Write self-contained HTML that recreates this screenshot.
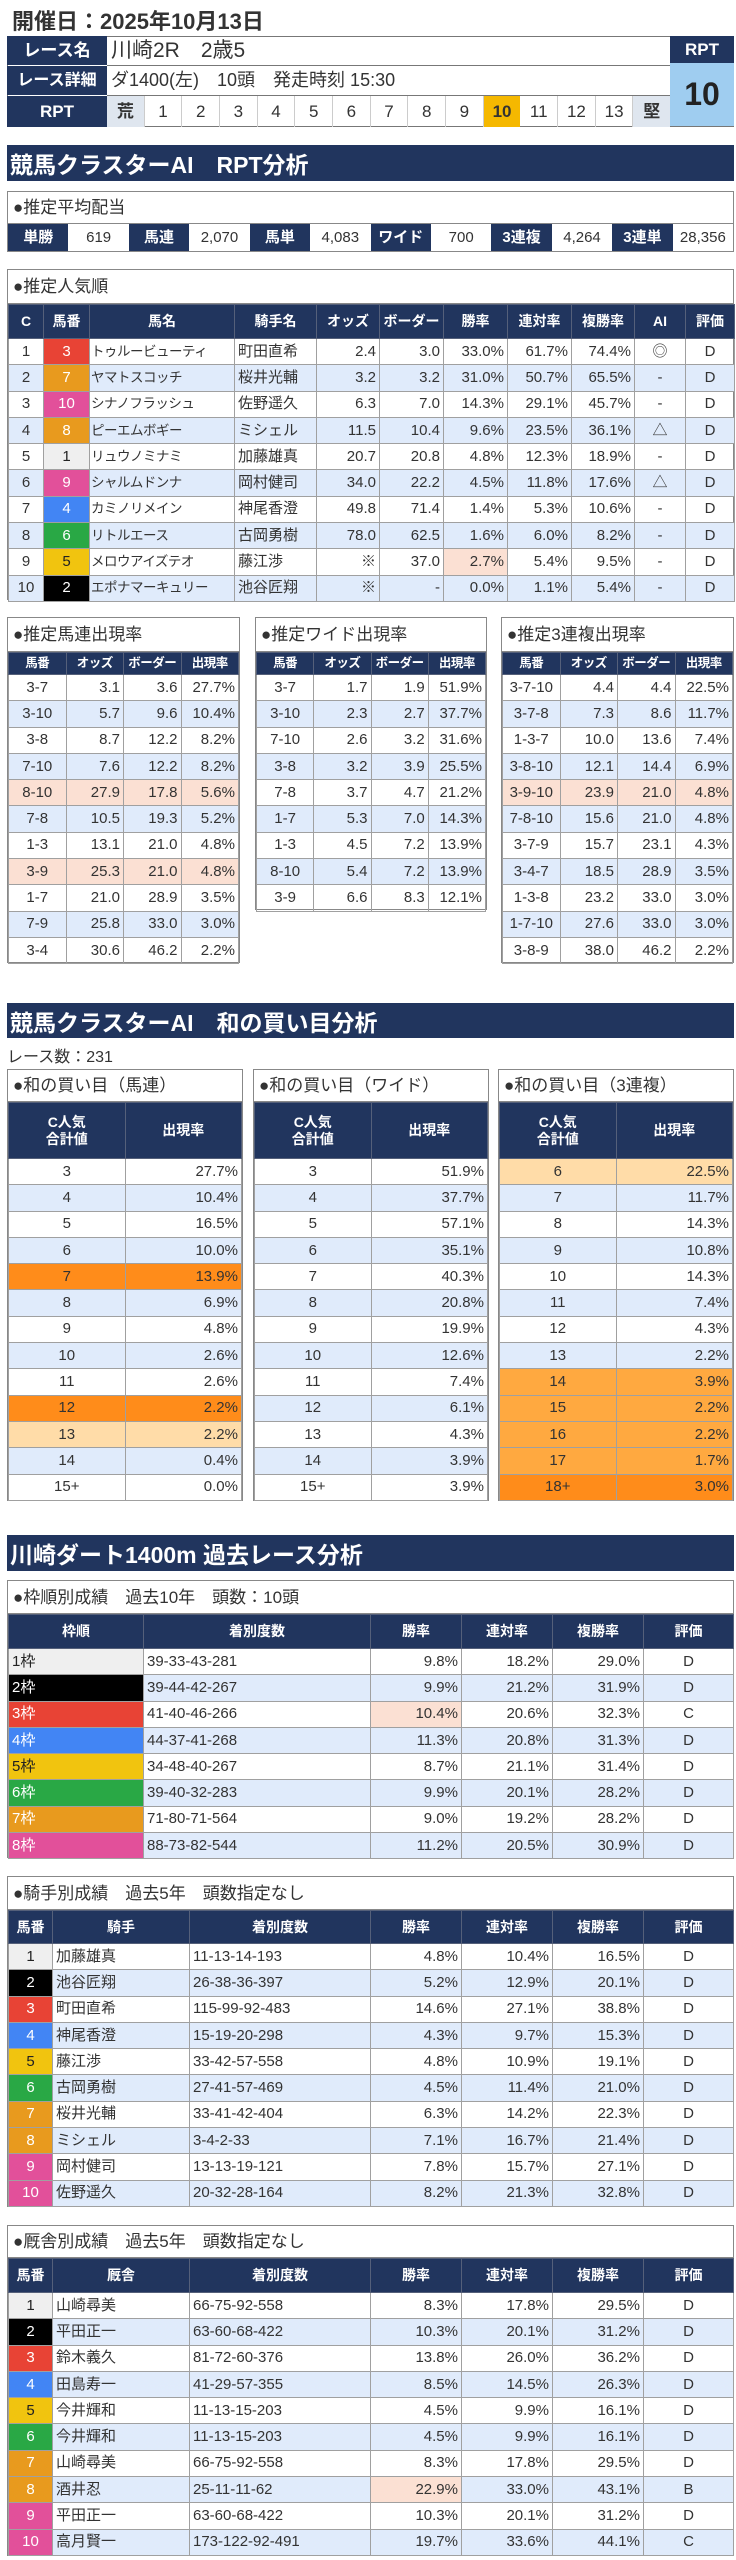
<!DOCTYPE html>
<html><head><meta charset="utf-8">
<style>
*{box-sizing:border-box}
body{margin:0;width:736px;height:2560px;position:relative;background:#fff;font-family:"Liberation Sans","Noto Sans CJK JP",sans-serif;color:#333;overflow:hidden}
.abs{position:absolute}
.sec{position:absolute;left:7px;width:727px;background:#21355e;color:#fff;font-weight:bold;font-size:23px;padding-left:3px;display:flex;align-items:center}
.box{position:absolute;border:1px solid #888;background:#fff}
.bt{height:32px;line-height:32px;padding-left:5px;font-size:17px;border-bottom:1px solid #888}
table.t{width:100%;border-collapse:collapse;table-layout:fixed;font-size:15px}
.t th{background:#21355e;color:#fff;font-weight:bold;border:1px solid #55607a;font-size:14px;padding:0;text-align:center;white-space:nowrap;overflow:hidden;line-height:1.2}
.t td{border:1px solid #a0a0a0;height:26.3px;line-height:20px;padding:0 3px;white-space:nowrap;overflow:hidden;vertical-align:middle}
.t tr.a td{background:#e0ebfb}
.r{text-align:right}.c{text-align:center}.l{text-align:left}
.nm{font-size:13.5px;letter-spacing:-0.5px;padding:0 1px!important}
.t td.pk,.t tr td.pk{background:#fbe0d3}
.sm th{font-size:12.5px;letter-spacing:-0.5px}
.w1{background:#efefef!important;color:#222}
.w2{background:#000!important;color:#fff}
.w3{background:#e84335!important;color:#fff}
.w4{background:#4285f4!important;color:#fff}
.w5{background:#f1c40f!important;color:#222}
.w6{background:#29a845!important;color:#fff}
.w7{background:#e89a1e!important;color:#fff}
.w8{background:#e2509a!important;color:#fff}
.o1 td{background:#ff8c1a!important}
.o2 td{background:#ffa940!important}
.o3 td{background:#ffdca8!important}
</style></head><body>

<div class="abs" style="left:12px;top:4px;font-size:22px;font-weight:bold;color:#333">開催日：2025年10月13日</div>

<div class="abs" style="left:7px;top:36px;width:727px;height:91px;border:1px solid #777;background:#fff"></div>
<div class="abs" style="left:7px;top:36px;width:100px;height:29px;background:#21355e;color:#fff;font-weight:bold;font-size:17px;text-align:center;line-height:29px">レース名</div>
<div class="abs" style="left:7px;top:66px;width:100px;height:29px;background:#21355e;color:#fff;font-weight:bold;font-size:16px;text-align:center;line-height:29px">レース詳細</div>
<div class="abs" style="left:7px;top:96px;width:100px;height:31px;background:#21355e;color:#fff;font-weight:bold;font-size:17px;text-align:center;line-height:31px">RPT</div>
<div class="abs" style="left:111px;top:36px;height:29px;line-height:29px;font-size:21px">川崎2R　2歳5</div>
<div class="abs" style="left:107px;top:65px;width:563px;border-top:1px solid #777"></div>
<div class="abs" style="left:111px;top:66px;height:29px;line-height:29px;font-size:18px">ダ1400(左)　10頭　発走時刻 15:30</div>
<div class="abs" style="left:107px;top:95px;width:563px;border-top:1px solid #777"></div>
<div class="abs" style="left:107px;top:96px;width:563px;height:31px;display:flex;font-size:17px;text-align:center;line-height:31px">
<div style="flex:1;background:#dfe6ef;font-weight:bold;border-right:1px solid #ccc">荒</div><div style="flex:1;border-right:1px solid #ccc">1</div><div style="flex:1;border-right:1px solid #ccc">2</div><div style="flex:1;border-right:1px solid #ccc">3</div><div style="flex:1;border-right:1px solid #ccc">4</div><div style="flex:1;border-right:1px solid #ccc">5</div><div style="flex:1;border-right:1px solid #ccc">6</div><div style="flex:1;border-right:1px solid #ccc">7</div><div style="flex:1;border-right:1px solid #ccc">8</div><div style="flex:1;border-right:1px solid #ccc">9</div><div style="flex:1;background:#f5b800;font-weight:bold">10</div><div style="flex:1;border-right:1px solid #ccc">11</div><div style="flex:1;border-right:1px solid #ccc">12</div><div style="flex:1;border-right:1px solid #ccc">13</div><div style="flex:1;background:#dfe6ef;font-weight:bold">堅</div></div>
<div class="abs" style="left:670px;top:36px;width:64px;height:27px;background:#21355e;color:#fff;font-weight:bold;font-size:17px;text-align:center;line-height:27px">RPT</div>
<div class="abs" style="left:670px;top:63px;width:64px;height:63px;background:#9fcdf0;color:#222;font-weight:bold;font-size:32px;text-align:center;line-height:63px">10</div>

<div class="sec" style="top:145px;height:36px">競馬クラスターAI　RPT分析</div>

<div class="box" style="left:7px;top:191px;width:727px;height:61px">
<div class="bt">●推定平均配当</div>
<div style="display:flex;height:27px;line-height:27px;font-size:15px;text-align:center">
<div style="flex:1;background:#21355e;color:#fff;font-weight:bold">単勝</div><div style="flex:1">619</div>
<div style="flex:1;background:#21355e;color:#fff;font-weight:bold">馬連</div><div style="flex:1">2,070</div>
<div style="flex:1;background:#21355e;color:#fff;font-weight:bold">馬単</div><div style="flex:1">4,083</div>
<div style="flex:1;background:#21355e;color:#fff;font-weight:bold">ワイド</div><div style="flex:1">700</div>
<div style="flex:1;background:#21355e;color:#fff;font-weight:bold">3連複</div><div style="flex:1">4,264</div>
<div style="flex:1;background:#21355e;color:#fff;font-weight:bold">3連単</div><div style="flex:1">28,356</div>
</div></div>

<div class="box" style="left:7px;top:269px;width:727px;height:331px">
<div class="bt" style="height:34px;line-height:34px">●推定人気順</div>
<table class="t"><colgroup><col style="width:35px"><col style="width:46px"><col style="width:145px"><col style="width:82px"><col style="width:63px"><col style="width:64px"><col style="width:64px"><col style="width:64px"><col style="width:63px"><col style="width:51px"><col style="width:49px"></colgroup>
<tr style="height:34px"><th>C</th><th>馬番</th><th>馬名</th><th>騎手名</th><th>オッズ</th><th>ボーダー</th><th>勝率</th><th>連対率</th><th>複勝率</th><th>AI</th><th>評価</th></tr>
<tr><td class="c">1</td><td class="c w3">3</td><td class="nm">トゥルービューティ</td><td>町田直希</td><td class="r">2.4</td><td class="r">3.0</td><td class="r">33.0%</td><td class="r">61.7%</td><td class="r">74.4%</td><td class="c">◎</td><td class="c">D</td></tr>
<tr class="a"><td class="c">2</td><td class="c w7">7</td><td class="nm">ヤマトスコッチ</td><td>桜井光輔</td><td class="r">3.2</td><td class="r">3.2</td><td class="r">31.0%</td><td class="r">50.7%</td><td class="r">65.5%</td><td class="c">-</td><td class="c">D</td></tr>
<tr><td class="c">3</td><td class="c w8">10</td><td class="nm">シナノフラッシュ</td><td>佐野遥久</td><td class="r">6.3</td><td class="r">7.0</td><td class="r">14.3%</td><td class="r">29.1%</td><td class="r">45.7%</td><td class="c">-</td><td class="c">D</td></tr>
<tr class="a"><td class="c">4</td><td class="c w7">8</td><td class="nm">ピーエムボギー</td><td>ミシェル</td><td class="r">11.5</td><td class="r">10.4</td><td class="r">9.6%</td><td class="r">23.5%</td><td class="r">36.1%</td><td class="c">△</td><td class="c">D</td></tr>
<tr><td class="c">5</td><td class="c w1">1</td><td class="nm">リュウノミナミ</td><td>加藤雄真</td><td class="r">20.7</td><td class="r">20.8</td><td class="r">4.8%</td><td class="r">12.3%</td><td class="r">18.9%</td><td class="c">-</td><td class="c">D</td></tr>
<tr class="a"><td class="c">6</td><td class="c w8">9</td><td class="nm">シャルムドンナ</td><td>岡村健司</td><td class="r">34.0</td><td class="r">22.2</td><td class="r">4.5%</td><td class="r">11.8%</td><td class="r">17.6%</td><td class="c">△</td><td class="c">D</td></tr>
<tr><td class="c">7</td><td class="c w4">4</td><td class="nm">カミノリメイン</td><td>神尾香澄</td><td class="r">49.8</td><td class="r">71.4</td><td class="r">1.4%</td><td class="r">5.3%</td><td class="r">10.6%</td><td class="c">-</td><td class="c">D</td></tr>
<tr class="a"><td class="c">8</td><td class="c w6">6</td><td class="nm">リトルエース</td><td>古岡勇樹</td><td class="r">78.0</td><td class="r">62.5</td><td class="r">1.6%</td><td class="r">6.0%</td><td class="r">8.2%</td><td class="c">-</td><td class="c">D</td></tr>
<tr><td class="c">9</td><td class="c w5">5</td><td class="nm">メロウアイズテオ</td><td>藤江渉</td><td class="r">※</td><td class="r">37.0</td><td class="r pk">2.7%</td><td class="r">5.4%</td><td class="r">9.5%</td><td class="c">-</td><td class="c">D</td></tr>
<tr class="a"><td class="c">10</td><td class="c w2">2</td><td class="nm">エポナマーキュリー</td><td>池谷匠翔</td><td class="r">※</td><td class="r">-</td><td class="r">0.0%</td><td class="r">1.1%</td><td class="r">5.4%</td><td class="c">-</td><td class="c">D</td></tr>
</table></div>

<div class="box" style="left:7px;top:617px;width:233px;height:346px">
<div class="bt" style="height:34px;line-height:34px">●推定馬連出現率</div>
<table class="t sm"><tr style="height:22px"><th>馬番</th><th>オッズ</th><th>ボーダー</th><th>出現率</th></tr>
<tr><td class="c">3-7</td><td class="r">3.1</td><td class="r">3.6</td><td class="r">27.7%</td></tr>
<tr class="a"><td class="c">3-10</td><td class="r">5.7</td><td class="r">9.6</td><td class="r">10.4%</td></tr>
<tr><td class="c">3-8</td><td class="r">8.7</td><td class="r">12.2</td><td class="r">8.2%</td></tr>
<tr class="a"><td class="c">7-10</td><td class="r">7.6</td><td class="r">12.2</td><td class="r">8.2%</td></tr>
<tr><td class="c pk">8-10</td><td class="r pk">27.9</td><td class="r pk">17.8</td><td class="r pk">5.6%</td></tr>
<tr class="a"><td class="c">7-8</td><td class="r">10.5</td><td class="r">19.3</td><td class="r">5.2%</td></tr>
<tr><td class="c">1-3</td><td class="r">13.1</td><td class="r">21.0</td><td class="r">4.8%</td></tr>
<tr class="a"><td class="c pk">3-9</td><td class="r pk">25.3</td><td class="r pk">21.0</td><td class="r pk">4.8%</td></tr>
<tr><td class="c">1-7</td><td class="r">21.0</td><td class="r">28.9</td><td class="r">3.5%</td></tr>
<tr class="a"><td class="c">7-9</td><td class="r">25.8</td><td class="r">33.0</td><td class="r">3.0%</td></tr>
<tr><td class="c">3-4</td><td class="r">30.6</td><td class="r">46.2</td><td class="r">2.2%</td></tr>
</table></div>

<div class="box" style="left:255px;top:617px;width:232px;height:293px">
<div class="bt" style="height:34px;line-height:34px">●推定ワイド出現率</div>
<table class="t sm"><tr style="height:22px"><th>馬番</th><th>オッズ</th><th>ボーダー</th><th>出現率</th></tr>
<tr><td class="c">3-7</td><td class="r">1.7</td><td class="r">1.9</td><td class="r">51.9%</td></tr>
<tr class="a"><td class="c">3-10</td><td class="r">2.3</td><td class="r">2.7</td><td class="r">37.7%</td></tr>
<tr><td class="c">7-10</td><td class="r">2.6</td><td class="r">3.2</td><td class="r">31.6%</td></tr>
<tr class="a"><td class="c">3-8</td><td class="r">3.2</td><td class="r">3.9</td><td class="r">25.5%</td></tr>
<tr><td class="c">7-8</td><td class="r">3.7</td><td class="r">4.7</td><td class="r">21.2%</td></tr>
<tr class="a"><td class="c">1-7</td><td class="r">5.3</td><td class="r">7.0</td><td class="r">14.3%</td></tr>
<tr><td class="c">1-3</td><td class="r">4.5</td><td class="r">7.2</td><td class="r">13.9%</td></tr>
<tr class="a"><td class="c">8-10</td><td class="r">5.4</td><td class="r">7.2</td><td class="r">13.9%</td></tr>
<tr><td class="c">3-9</td><td class="r">6.6</td><td class="r">8.3</td><td class="r">12.1%</td></tr>
</table></div>

<div class="box" style="left:501px;top:617px;width:233px;height:346px">
<div class="bt" style="height:34px;line-height:34px">●推定3連複出現率</div>
<table class="t sm"><tr style="height:22px"><th>馬番</th><th>オッズ</th><th>ボーダー</th><th>出現率</th></tr>
<tr><td class="c">3-7-10</td><td class="r">4.4</td><td class="r">4.4</td><td class="r">22.5%</td></tr>
<tr class="a"><td class="c">3-7-8</td><td class="r">7.3</td><td class="r">8.6</td><td class="r">11.7%</td></tr>
<tr><td class="c">1-3-7</td><td class="r">10.0</td><td class="r">13.6</td><td class="r">7.4%</td></tr>
<tr class="a"><td class="c">3-8-10</td><td class="r">12.1</td><td class="r">14.4</td><td class="r">6.9%</td></tr>
<tr><td class="c pk">3-9-10</td><td class="r pk">23.9</td><td class="r pk">21.0</td><td class="r pk">4.8%</td></tr>
<tr class="a"><td class="c">7-8-10</td><td class="r">15.6</td><td class="r">21.0</td><td class="r">4.8%</td></tr>
<tr><td class="c">3-7-9</td><td class="r">15.7</td><td class="r">23.1</td><td class="r">4.3%</td></tr>
<tr class="a"><td class="c">3-4-7</td><td class="r">18.5</td><td class="r">28.9</td><td class="r">3.5%</td></tr>
<tr><td class="c">1-3-8</td><td class="r">23.2</td><td class="r">33.0</td><td class="r">3.0%</td></tr>
<tr class="a"><td class="c">1-7-10</td><td class="r">27.6</td><td class="r">33.0</td><td class="r">3.0%</td></tr>
<tr><td class="c">3-8-9</td><td class="r">38.0</td><td class="r">46.2</td><td class="r">2.2%</td></tr>
</table></div>

<div class="sec" style="top:1003px;height:35px">競馬クラスターAI　和の買い目分析</div>
<div class="abs" style="left:7px;top:1043px;font-size:16px">レース数：231</div>

<div class="box" style="left:7px;top:1069px;width:236px;height:432px">
<div class="bt">●和の買い目（馬連）</div>
<table class="t"><tr style="height:56px"><th>C人気<br>合計値</th><th>出現率</th></tr>
<tr><td class="c">3</td><td class="r">27.7%</td></tr>
<tr class="a"><td class="c">4</td><td class="r">10.4%</td></tr>
<tr><td class="c">5</td><td class="r">16.5%</td></tr>
<tr class="a"><td class="c">6</td><td class="r">10.0%</td></tr>
<tr class="o1"><td class="c">7</td><td class="r">13.9%</td></tr>
<tr class="a"><td class="c">8</td><td class="r">6.9%</td></tr>
<tr><td class="c">9</td><td class="r">4.8%</td></tr>
<tr class="a"><td class="c">10</td><td class="r">2.6%</td></tr>
<tr><td class="c">11</td><td class="r">2.6%</td></tr>
<tr class="o1"><td class="c">12</td><td class="r">2.2%</td></tr>
<tr class="o3"><td class="c">13</td><td class="r">2.2%</td></tr>
<tr class="a"><td class="c">14</td><td class="r">0.4%</td></tr>
<tr><td class="c">15+</td><td class="r">0.0%</td></tr>
</table></div>

<div class="box" style="left:253px;top:1069px;width:236px;height:432px">
<div class="bt">●和の買い目（ワイド）</div>
<table class="t"><tr style="height:56px"><th>C人気<br>合計値</th><th>出現率</th></tr>
<tr><td class="c">3</td><td class="r">51.9%</td></tr>
<tr class="a"><td class="c">4</td><td class="r">37.7%</td></tr>
<tr><td class="c">5</td><td class="r">57.1%</td></tr>
<tr class="a"><td class="c">6</td><td class="r">35.1%</td></tr>
<tr><td class="c">7</td><td class="r">40.3%</td></tr>
<tr class="a"><td class="c">8</td><td class="r">20.8%</td></tr>
<tr><td class="c">9</td><td class="r">19.9%</td></tr>
<tr class="a"><td class="c">10</td><td class="r">12.6%</td></tr>
<tr><td class="c">11</td><td class="r">7.4%</td></tr>
<tr class="a"><td class="c">12</td><td class="r">6.1%</td></tr>
<tr><td class="c">13</td><td class="r">4.3%</td></tr>
<tr class="a"><td class="c">14</td><td class="r">3.9%</td></tr>
<tr><td class="c">15+</td><td class="r">3.9%</td></tr>
</table></div>

<div class="box" style="left:498px;top:1069px;width:236px;height:432px">
<div class="bt">●和の買い目（3連複）</div>
<table class="t"><tr style="height:56px"><th>C人気<br>合計値</th><th>出現率</th></tr>
<tr class="o3"><td class="c">6</td><td class="r">22.5%</td></tr>
<tr class="a"><td class="c">7</td><td class="r">11.7%</td></tr>
<tr><td class="c">8</td><td class="r">14.3%</td></tr>
<tr class="a"><td class="c">9</td><td class="r">10.8%</td></tr>
<tr><td class="c">10</td><td class="r">14.3%</td></tr>
<tr class="a"><td class="c">11</td><td class="r">7.4%</td></tr>
<tr><td class="c">12</td><td class="r">4.3%</td></tr>
<tr class="a"><td class="c">13</td><td class="r">2.2%</td></tr>
<tr class="o2"><td class="c">14</td><td class="r">3.9%</td></tr>
<tr class="o2"><td class="c">15</td><td class="r">2.2%</td></tr>
<tr class="o2"><td class="c">16</td><td class="r">2.2%</td></tr>
<tr class="o2"><td class="c">17</td><td class="r">1.7%</td></tr>
<tr class="o1"><td class="c">18+</td><td class="r">3.0%</td></tr>
</table></div>

<div class="sec" style="top:1535px;height:36px">川崎ダート1400m 過去レース分析</div>

<div class="box" style="left:7px;top:1580px;width:727px;height:278px">
<div class="bt" style="height:33px;line-height:33px">●枠順別成績　過去10年　頭数：10頭</div>
<table class="t"><colgroup><col style="width:135px"><col style="width:227px"><col style="width:91px"><col style="width:91px"><col style="width:91px"><col style="width:90px"></colgroup>
<tr style="height:34px"><th>枠順</th><th>着別度数</th><th>勝率</th><th>連対率</th><th>複勝率</th><th>評価</th></tr>
<tr><td class="w1">1枠</td><td>39-33-43-281</td><td class="r">9.8%</td><td class="r">18.2%</td><td class="r">29.0%</td><td class="c">D</td></tr>
<tr class="a"><td class="w2">2枠</td><td>39-44-42-267</td><td class="r">9.9%</td><td class="r">21.2%</td><td class="r">31.9%</td><td class="c">D</td></tr>
<tr><td class="w3">3枠</td><td>41-40-46-266</td><td class="r pk">10.4%</td><td class="r">20.6%</td><td class="r">32.3%</td><td class="c">C</td></tr>
<tr class="a"><td class="w4">4枠</td><td>44-37-41-268</td><td class="r">11.3%</td><td class="r">20.8%</td><td class="r">31.3%</td><td class="c">D</td></tr>
<tr><td class="w5">5枠</td><td>34-48-40-267</td><td class="r">8.7%</td><td class="r">21.1%</td><td class="r">31.4%</td><td class="c">D</td></tr>
<tr class="a"><td class="w6">6枠</td><td>39-40-32-283</td><td class="r">9.9%</td><td class="r">20.1%</td><td class="r">28.2%</td><td class="c">D</td></tr>
<tr><td class="w7">7枠</td><td>71-80-71-564</td><td class="r">9.0%</td><td class="r">19.2%</td><td class="r">28.2%</td><td class="c">D</td></tr>
<tr class="a"><td class="w8">8枠</td><td>88-73-82-544</td><td class="r">11.2%</td><td class="r">20.5%</td><td class="r">30.9%</td><td class="c">D</td></tr>
</table></div>

<div class="box" style="left:7px;top:1876px;width:727px;height:331px">
<div class="bt" style="height:33px;line-height:33px">●騎手別成績　過去5年　頭数指定なし</div>
<table class="t"><colgroup><col style="width:44px"><col style="width:137px"><col style="width:181px"><col style="width:91px"><col style="width:91px"><col style="width:91px"><col style="width:90px"></colgroup>
<tr style="height:33px"><th>馬番</th><th>騎手</th><th>着別度数</th><th>勝率</th><th>連対率</th><th>複勝率</th><th>評価</th></tr>
<tr><td class="c w1">1</td><td>加藤雄真</td><td>11-13-14-193</td><td class="r">4.8%</td><td class="r">10.4%</td><td class="r">16.5%</td><td class="c">D</td></tr>
<tr class="a"><td class="c w2">2</td><td>池谷匠翔</td><td>26-38-36-397</td><td class="r">5.2%</td><td class="r">12.9%</td><td class="r">20.1%</td><td class="c">D</td></tr>
<tr><td class="c w3">3</td><td>町田直希</td><td>115-99-92-483</td><td class="r">14.6%</td><td class="r">27.1%</td><td class="r">38.8%</td><td class="c">D</td></tr>
<tr class="a"><td class="c w4">4</td><td>神尾香澄</td><td>15-19-20-298</td><td class="r">4.3%</td><td class="r">9.7%</td><td class="r">15.3%</td><td class="c">D</td></tr>
<tr><td class="c w5">5</td><td>藤江渉</td><td>33-42-57-558</td><td class="r">4.8%</td><td class="r">10.9%</td><td class="r">19.1%</td><td class="c">D</td></tr>
<tr class="a"><td class="c w6">6</td><td>古岡勇樹</td><td>27-41-57-469</td><td class="r">4.5%</td><td class="r">11.4%</td><td class="r">21.0%</td><td class="c">D</td></tr>
<tr><td class="c w7">7</td><td>桜井光輔</td><td>33-41-42-404</td><td class="r">6.3%</td><td class="r">14.2%</td><td class="r">22.3%</td><td class="c">D</td></tr>
<tr class="a"><td class="c w7">8</td><td>ミシェル</td><td>3-4-2-33</td><td class="r">7.1%</td><td class="r">16.7%</td><td class="r">21.4%</td><td class="c">D</td></tr>
<tr><td class="c w8">9</td><td>岡村健司</td><td>13-13-19-121</td><td class="r">7.8%</td><td class="r">15.7%</td><td class="r">27.1%</td><td class="c">D</td></tr>
<tr class="a"><td class="c w8">10</td><td>佐野遥久</td><td>20-32-28-164</td><td class="r">8.2%</td><td class="r">21.3%</td><td class="r">32.8%</td><td class="c">D</td></tr>
</table></div>

<div class="box" style="left:7px;top:2225px;width:727px;height:331px">
<div class="bt">●厩舎別成績　過去5年　頭数指定なし</div>
<table class="t"><colgroup><col style="width:44px"><col style="width:137px"><col style="width:181px"><col style="width:91px"><col style="width:91px"><col style="width:91px"><col style="width:90px"></colgroup>
<tr style="height:34px"><th>馬番</th><th>厩舎</th><th>着別度数</th><th>勝率</th><th>連対率</th><th>複勝率</th><th>評価</th></tr>
<tr><td class="c w1">1</td><td>山崎尋美</td><td>66-75-92-558</td><td class="r">8.3%</td><td class="r">17.8%</td><td class="r">29.5%</td><td class="c">D</td></tr>
<tr class="a"><td class="c w2">2</td><td>平田正一</td><td>63-60-68-422</td><td class="r">10.3%</td><td class="r">20.1%</td><td class="r">31.2%</td><td class="c">D</td></tr>
<tr><td class="c w3">3</td><td>鈴木義久</td><td>81-72-60-376</td><td class="r">13.8%</td><td class="r">26.0%</td><td class="r">36.2%</td><td class="c">D</td></tr>
<tr class="a"><td class="c w4">4</td><td>田島寿一</td><td>41-29-57-355</td><td class="r">8.5%</td><td class="r">14.5%</td><td class="r">26.3%</td><td class="c">D</td></tr>
<tr><td class="c w5">5</td><td>今井輝和</td><td>11-13-15-203</td><td class="r">4.5%</td><td class="r">9.9%</td><td class="r">16.1%</td><td class="c">D</td></tr>
<tr class="a"><td class="c w6">6</td><td>今井輝和</td><td>11-13-15-203</td><td class="r">4.5%</td><td class="r">9.9%</td><td class="r">16.1%</td><td class="c">D</td></tr>
<tr><td class="c w7">7</td><td>山崎尋美</td><td>66-75-92-558</td><td class="r">8.3%</td><td class="r">17.8%</td><td class="r">29.5%</td><td class="c">D</td></tr>
<tr class="a"><td class="c w7">8</td><td>酒井忍</td><td>25-11-11-62</td><td class="r pk">22.9%</td><td class="r">33.0%</td><td class="r">43.1%</td><td class="c">B</td></tr>
<tr><td class="c w8">9</td><td>平田正一</td><td>63-60-68-422</td><td class="r">10.3%</td><td class="r">20.1%</td><td class="r">31.2%</td><td class="c">D</td></tr>
<tr class="a"><td class="c w8">10</td><td>高月賢一</td><td>173-122-92-491</td><td class="r">19.7%</td><td class="r">33.6%</td><td class="r">44.1%</td><td class="c">C</td></tr>
</table></div>

</body></html>
